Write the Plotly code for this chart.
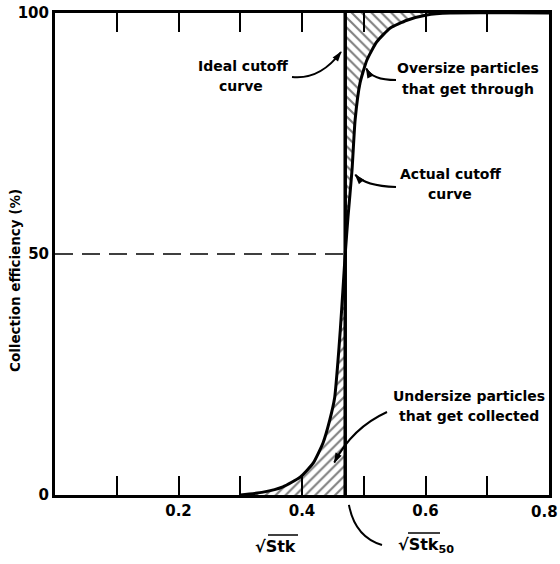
import math
import plotly.graph_objects as go

# ---------------- data ----------------
stk50 = 0.47
curve_x = [0.30, 0.337, 0.369, 0.397, 0.418, 0.434, 0.445, 0.453, 0.458, 0.462, 0.466, 0.470,
           0.4745, 0.481, 0.486, 0.494, 0.505, 0.521, 0.543, 0.570, 0.602, 0.64, 0.80]
curve_y = [0.0, 0.6, 1.7, 3.7, 6.6, 10.8, 15.6, 20.3, 27.4, 34.2, 42.0, 50.0,
           57.7, 67.4, 77.8, 85.5, 90.2, 94.0, 96.9, 98.5, 99.6, 100.0, 100.0]
x_tickvals = [0.2, 0.4, 0.6]
x_ticktext = ["0.2", "0.4", "0.6"]
x_last_label = "0.8"
y_tickvals = [0, 50, 100]
y_ticktext = ["0", "50", "100"]

W, H = 560, 564
L, R, T, B = 55, 549, 13, 495   # plot area in pixels
FONT = "DejaVu Sans"


def px(xp, yp):
    return (xp - L) / (R - L), (B - yp) / (B - T)


def pxd(xp, yp):
    return (xp - L) / (R - L) * 0.8, (B - yp) / (B - T) * 100


fig = go.Figure()

# hatched lower region (undersize particles collected)
low_x = [x for x, y in zip(curve_x, curve_y) if y <= 50] + [stk50, stk50]
low_y = [y for y in curve_y if y <= 50] + [50, 0]
fig.add_trace(go.Scatter(x=low_x, y=low_y, fill="toself", mode="lines",
                         line=dict(width=0), fillcolor="rgba(0,0,0,0)",
                         fillpattern=dict(shape="/", size=7, solidity=0.3,
                                          fgcolor="black", bgcolor="white"),
                         hoverinfo="skip", showlegend=False))
# hatched upper region (oversize particles through)
sel = [(x, y) for x, y in zip(curve_x, curve_y) if y >= 50 and x <= 0.64]
up_x = [stk50] + [p[0] for p in sel] + [stk50]
up_y = [50] + [p[1] for p in sel] + [100]
fig.add_trace(go.Scatter(x=up_x, y=up_y, fill="toself", mode="lines",
                         line=dict(width=0), fillcolor="rgba(0,0,0,0)",
                         fillpattern=dict(shape="\\", size=7, solidity=0.3,
                                          fgcolor="black", bgcolor="white"),
                         hoverinfo="skip", showlegend=False))
# dashed 50% line
fig.add_trace(go.Scatter(x=[0, stk50], y=[50, 50], mode="lines",
                         line=dict(color="black", width=1.6, dash="18px,9px"),
                         hoverinfo="skip", showlegend=False))
# ideal cutoff
fig.add_trace(go.Scatter(x=[stk50, stk50], y=[0, 100], mode="lines",
                         line=dict(color="black", width=3.5),
                         hoverinfo="skip", showlegend=False))
# actual cutoff
fig.add_trace(go.Scatter(x=curve_x, y=curve_y, mode="lines",
                         line=dict(color="black", width=3, shape="spline", smoothing=0.5),
                         hoverinfo="skip", showlegend=False))

shapes = []
annotations = []
head_x, head_y, head_ang = [], [], []


def curved_arrow(start, ctrl, head):
    sx, sy = px(*start)
    cx, cy = px(*ctrl)
    dx, dy = head[0] - ctrl[0], head[1] - ctrl[1]
    n = math.hypot(dx, dy)
    ux, uy = dx / n, dy / n
    ex, ey = head[0] - ux * 5, head[1] - uy * 5
    ex_p, ey_p = px(ex, ey)
    shapes.append(dict(type="path", xref="paper", yref="paper",
                       path=f"M {sx},{sy} Q {cx},{cy} {ex_p},{ey_p}",
                       line=dict(color="black", width=2)))
    mx, my = pxd(head[0] - ux * 4, head[1] - uy * 4)
    head_x.append(mx)
    head_y.append(my)
    head_ang.append(math.degrees(math.atan2(ux, -uy)))


def label(text, xp, yp, size=14, angle=0, xanchor="center"):
    x, y = px(xp, yp)
    annotations.append(dict(x=x, y=y, xref="paper", yref="paper",
                            text=f"<b>{text}</b>",
                            showarrow=False, textangle=angle,
                            font=dict(family=FONT, size=size, color="black"),
                            xanchor=xanchor, yanchor="middle"))


label("Ideal cutoff", 243, 66, 14)
label("curve", 241, 86, 14)
label("Oversize particles", 468, 68, 14)
label("that get through", 468, 89, 14)
label("Actual cutoff", 450, 174, 14)
label("curve", 450, 194, 14)
label("Undersize particles", 469, 396, 14)
label("that get collected", 469, 416, 14)
label("Collection efficiency (%)", 15, 281, 13.5, angle=-90)
label("√Stk", 275, 546, 16)
label("√Stk<sub>50</sub>", 426, 545, 16)
label(x_last_label, 560, 512, 15, xanchor="right")

curved_arrow((292, 77), (320, 80), (344, 48))
curved_arrow((396, 80), (372, 80), (364, 64))
curved_arrow((396, 187), (365, 186), (352, 171))
curved_arrow((387, 412), (352, 428), (332, 467))
curved_arrow((382, 545), (355, 537), (348, 500))

fig.add_trace(go.Scatter(x=head_x, y=head_y, mode="markers", cliponaxis=False,
                         marker=dict(symbol="arrow", size=11, angle=head_ang,
                                     color="black", line=dict(width=0)),
                         hoverinfo="skip", showlegend=False))

# overlines on the square-root signs
for (x0, x1, yline) in [(268, 298, 535), (408, 440, 533)]:
    a, b = px(x0, yline)
    c, _ = px(x1, yline)
    shapes.append(dict(type="line", xref="paper", yref="paper", x0=a, x1=c,
                       y0=b, y1=b, line=dict(color="black", width=1.5)))

fig.update_layout(
    width=W, height=H,
    margin=dict(l=L, r=W - R, t=T, b=H - B),
    paper_bgcolor="white", plot_bgcolor="white",
    font=dict(family=FONT, size=15, color="black"),
    shapes=shapes, annotations=annotations,
    xaxis=dict(range=[0, 0.8], tickvals=x_tickvals,
               ticktext=[f"<b>{t}</b>" for t in x_ticktext],
               ticks="inside", ticklen=19, tickwidth=2, tickcolor="black",
               minor=dict(tick0=0, dtick=0.1, ticks="inside", ticklen=19,
                          tickwidth=2, tickcolor="black", showgrid=False),
               showline=True, linewidth=3, linecolor="black", mirror="ticks",
               showgrid=False, zeroline=False, automargin=False,
               tickfont=dict(family=FONT, size=15)),
    yaxis=dict(range=[0, 100], tickvals=y_tickvals,
               ticktext=[f"<b>{t}</b>" for t in y_ticktext],
               ticks="", showline=True, linewidth=3, linecolor="black",
               mirror=True, showgrid=False, zeroline=False, automargin=False,
               tickfont=dict(family=FONT, size=15)),
)

fig.write_html("out.html", config={"displayModeBar": False},
               post_script="document.body.style.margin='0';document.body.style.overflow='hidden';")
